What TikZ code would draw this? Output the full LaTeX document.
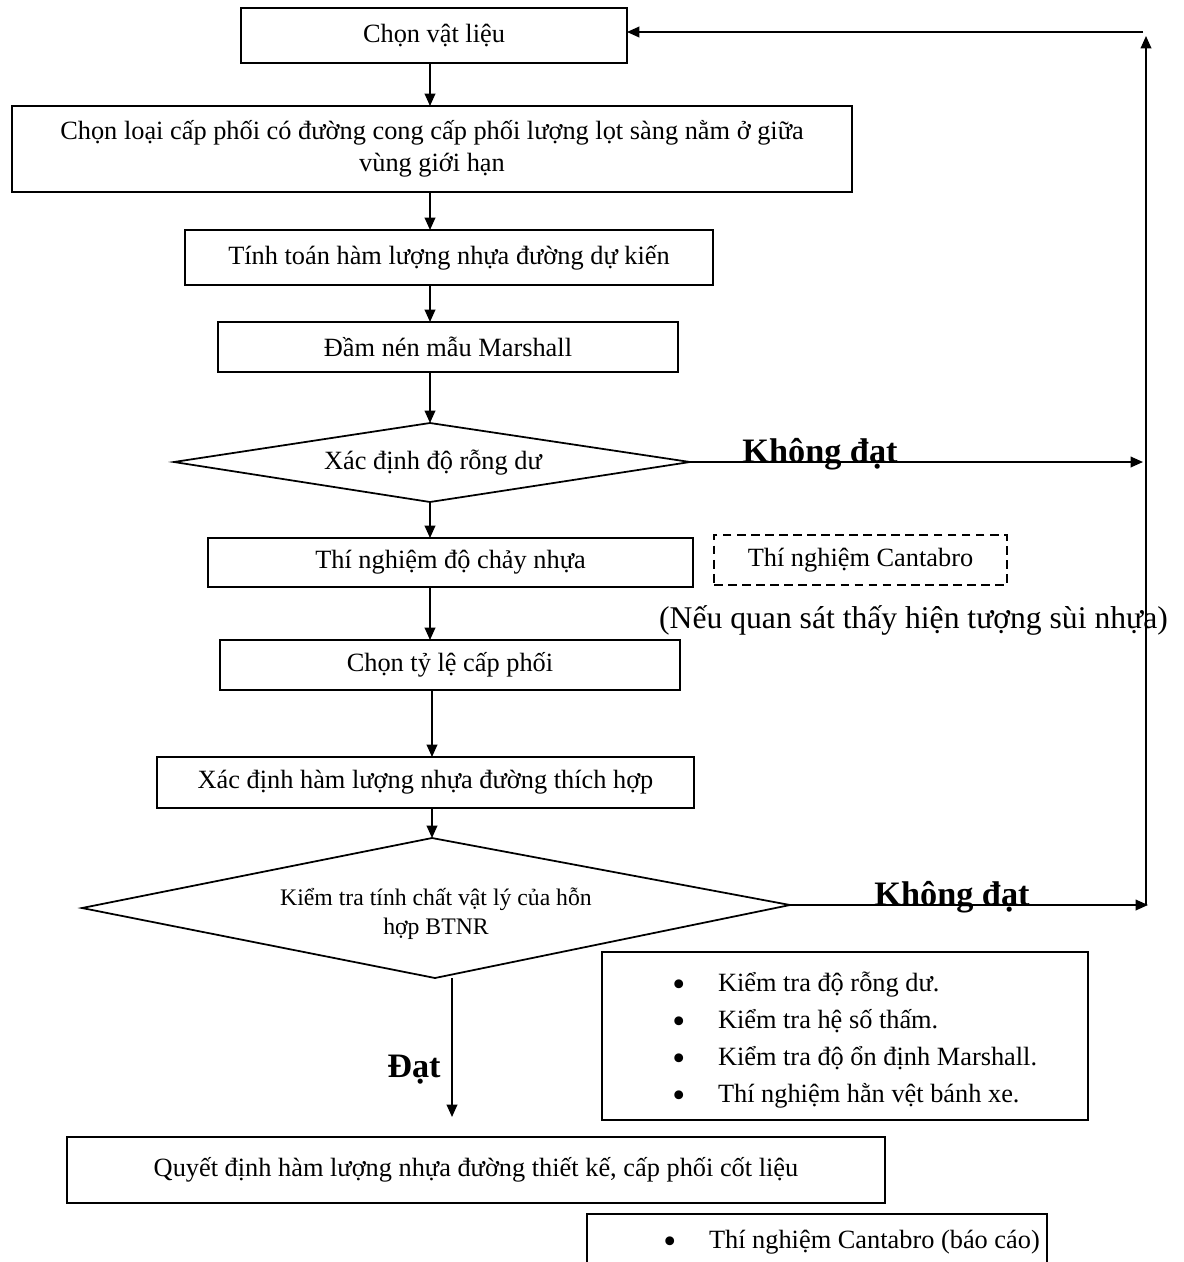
\documentclass[tikz,border=0pt]{standalone}
\usepackage{fontspec}
\setmainfont{Liberation Serif}
\usetikzlibrary{arrows.meta}
\newcommand{\bigdot}{\raisebox{-3pt}{\fontsize{21}{21}\selectfont •}}
\begin{document}
\begin{tikzpicture}[x=0.02cm,y=-0.02cm,
  box/.style={draw,line width=1pt,inner sep=0pt,outer sep=0pt,align=center,font=\fontsize{15}{18}\selectfont},
  dbox/.style={box,dashed,dash pattern=on 5pt off 3pt},
  conn/.style={line width=1pt},
  arr/.style={line width=1pt,-{Triangle[length=7pt,width=6pt]}},
  lbl/.style={font=\fontsize{19.5}{22}\selectfont\bfseries,inner sep=0pt}]
\useasboundingbox (0,0) rectangle (1184,1262);
\clip (0,0) rectangle (1184,1262);
\fill[white] (0,0) rectangle (1184,1262);

% boxes
\node[box,minimum width=7.72cm,minimum height=1.1cm] (b1) at (434,35.5) {Chọn vật liệu};
\node[box,minimum width=16.8cm,minimum height=1.72cm] (b2) at (432,149) {Chọn loại cấp phối có đường cong cấp phối lượng lọt sàng nằm ở giữa\\vùng giới hạn};
\node[box,minimum width=10.56cm,minimum height=1.1cm] (b3) at (449,257.5) {Tính toán hàm lượng nhựa đường dự kiến};
\node[box,minimum width=9.2cm,minimum height=1.0cm] (b4) at (448,347) {Đầm nén mẫu Marshall};

% diamond 1
\coordinate (d1l) at (174,462);
\coordinate (d1t) at (430,423);
\coordinate (d1r) at (690,462);
\coordinate (d1b) at (430,502);
\draw[conn] (d1l) -- (d1t) -- (d1r) -- (d1b) -- cycle;
\node[font=\fontsize{15}{18}\selectfont] (d1) at (433,463) {Xác định độ rỗng dư};

\node[box,minimum width=9.7cm,minimum height=0.98cm] (b5) at (450.5,562.5) {Thí nghiệm độ chảy nhựa};
\node[dbox,minimum width=5.86cm,minimum height=1.0cm] (cb) at (860.5,560) {Thí nghiệm Cantabro};
\node[font=\fontsize{18}{20}\selectfont,inner sep=0pt] (note) at (913.5,620) {(Nếu quan sát thấy hiện tượng sùi nhựa)};
\node[box,minimum width=9.2cm,minimum height=1.0cm] (b6) at (450,665) {Chọn tỷ lệ cấp phối};
\node[box,minimum width=10.74cm,minimum height=1.02cm] (b7) at (425.5,782.5) {Xác định hàm lượng nhựa đường thích hợp};

% diamond 2
\coordinate (d2l) at (82,908);
\coordinate (d2t) at (432,838);
\coordinate (d2r) at (790,905);
\coordinate (d2b) at (435,978);
\draw[conn] (d2l) -- (d2t) -- (d2r) -- (d2b) -- cycle;
\node[align=center,font=\fontsize{13.5}{16.5}\selectfont] (d2) at (436,914) {Kiểm tra tính chất vật lý của hỗn\\hợp BTNR};

% check box
\node[box,minimum width=9.72cm,minimum height=3.36cm] (chk) at (845,1036) {};
\node[anchor=west,align=left,inner sep=0pt,font=\fontsize{15}{21}\selectfont] (chklist) at (672,1040) {%
\makebox[26pt][l]{\bigdot}Kiểm tra độ rỗng dư.\\
\makebox[26pt][l]{\bigdot}Kiểm tra hệ số thấm.\\
\makebox[26pt][l]{\bigdot}Kiểm tra độ ổn định Marshall.\\
\makebox[26pt][l]{\bigdot}Thí nghiệm hằn vệt bánh xe.};

\node[box,minimum width=16.36cm,minimum height=1.32cm] (fin) at (476,1170) {Quyết định hàm lượng nhựa đường thiết kế, cấp phối cốt liệu};

\node[box,minimum width=9.2cm,minimum height=1.8cm] (rep) at (817,1259) {};
\node[anchor=west,inner sep=0pt,font=\fontsize{15}{18}\selectfont] (replist) at (663,1242) {\makebox[26pt][l]{\bigdot}Thí nghiệm Cantabro (báo cáo)};

% main flow arrows
\draw[arr] (b1.south -| d1t) -- (b2.north -| d1t);
\draw[arr] (b2.south -| d1t) -- (b3.north -| d1t);
\draw[arr] (b3.south -| d1t) -- (b4.north -| d1t);
\draw[arr] (b4.south -| d1t) -- (d1t);
\draw[arr] (d1b) -- (b5.north -| d1b);
\draw[arr] (b5.south -| d1b) -- (b6.north -| d1b);
\draw[arr] (b6.south -| d2t) -- (b7.north -| d2t);
\draw[arr] (b7.south -| d2t) -- (d2t);

\coordinate (ds) at (452,978);
\coordinate (de) at (452,1117);
\draw[arr] (ds) -- (de);
\node[lbl] (dat) at (414,1070) {Đạt};

% feedback loop
\coordinate (rbot) at (1146,905);
\coordinate (rtop) at (1146,36);
\coordinate (rcorner) at (1143,32);
\coordinate (k1end) at (1143,462);
\coordinate (k2end) at (1148,905);
\draw[arr] (d1r) -- (k1end);
\draw[arr] (d2r) -- (k2end);
\draw[arr] (rbot) -- (rtop);
\draw[arr] (rcorner) -- (b1.east |- rcorner);
\node[lbl] (kd1) at (820,454) {Không đạt};
\node[lbl] (kd2) at (952,897) {Không đạt};
\end{tikzpicture}
\end{document}
